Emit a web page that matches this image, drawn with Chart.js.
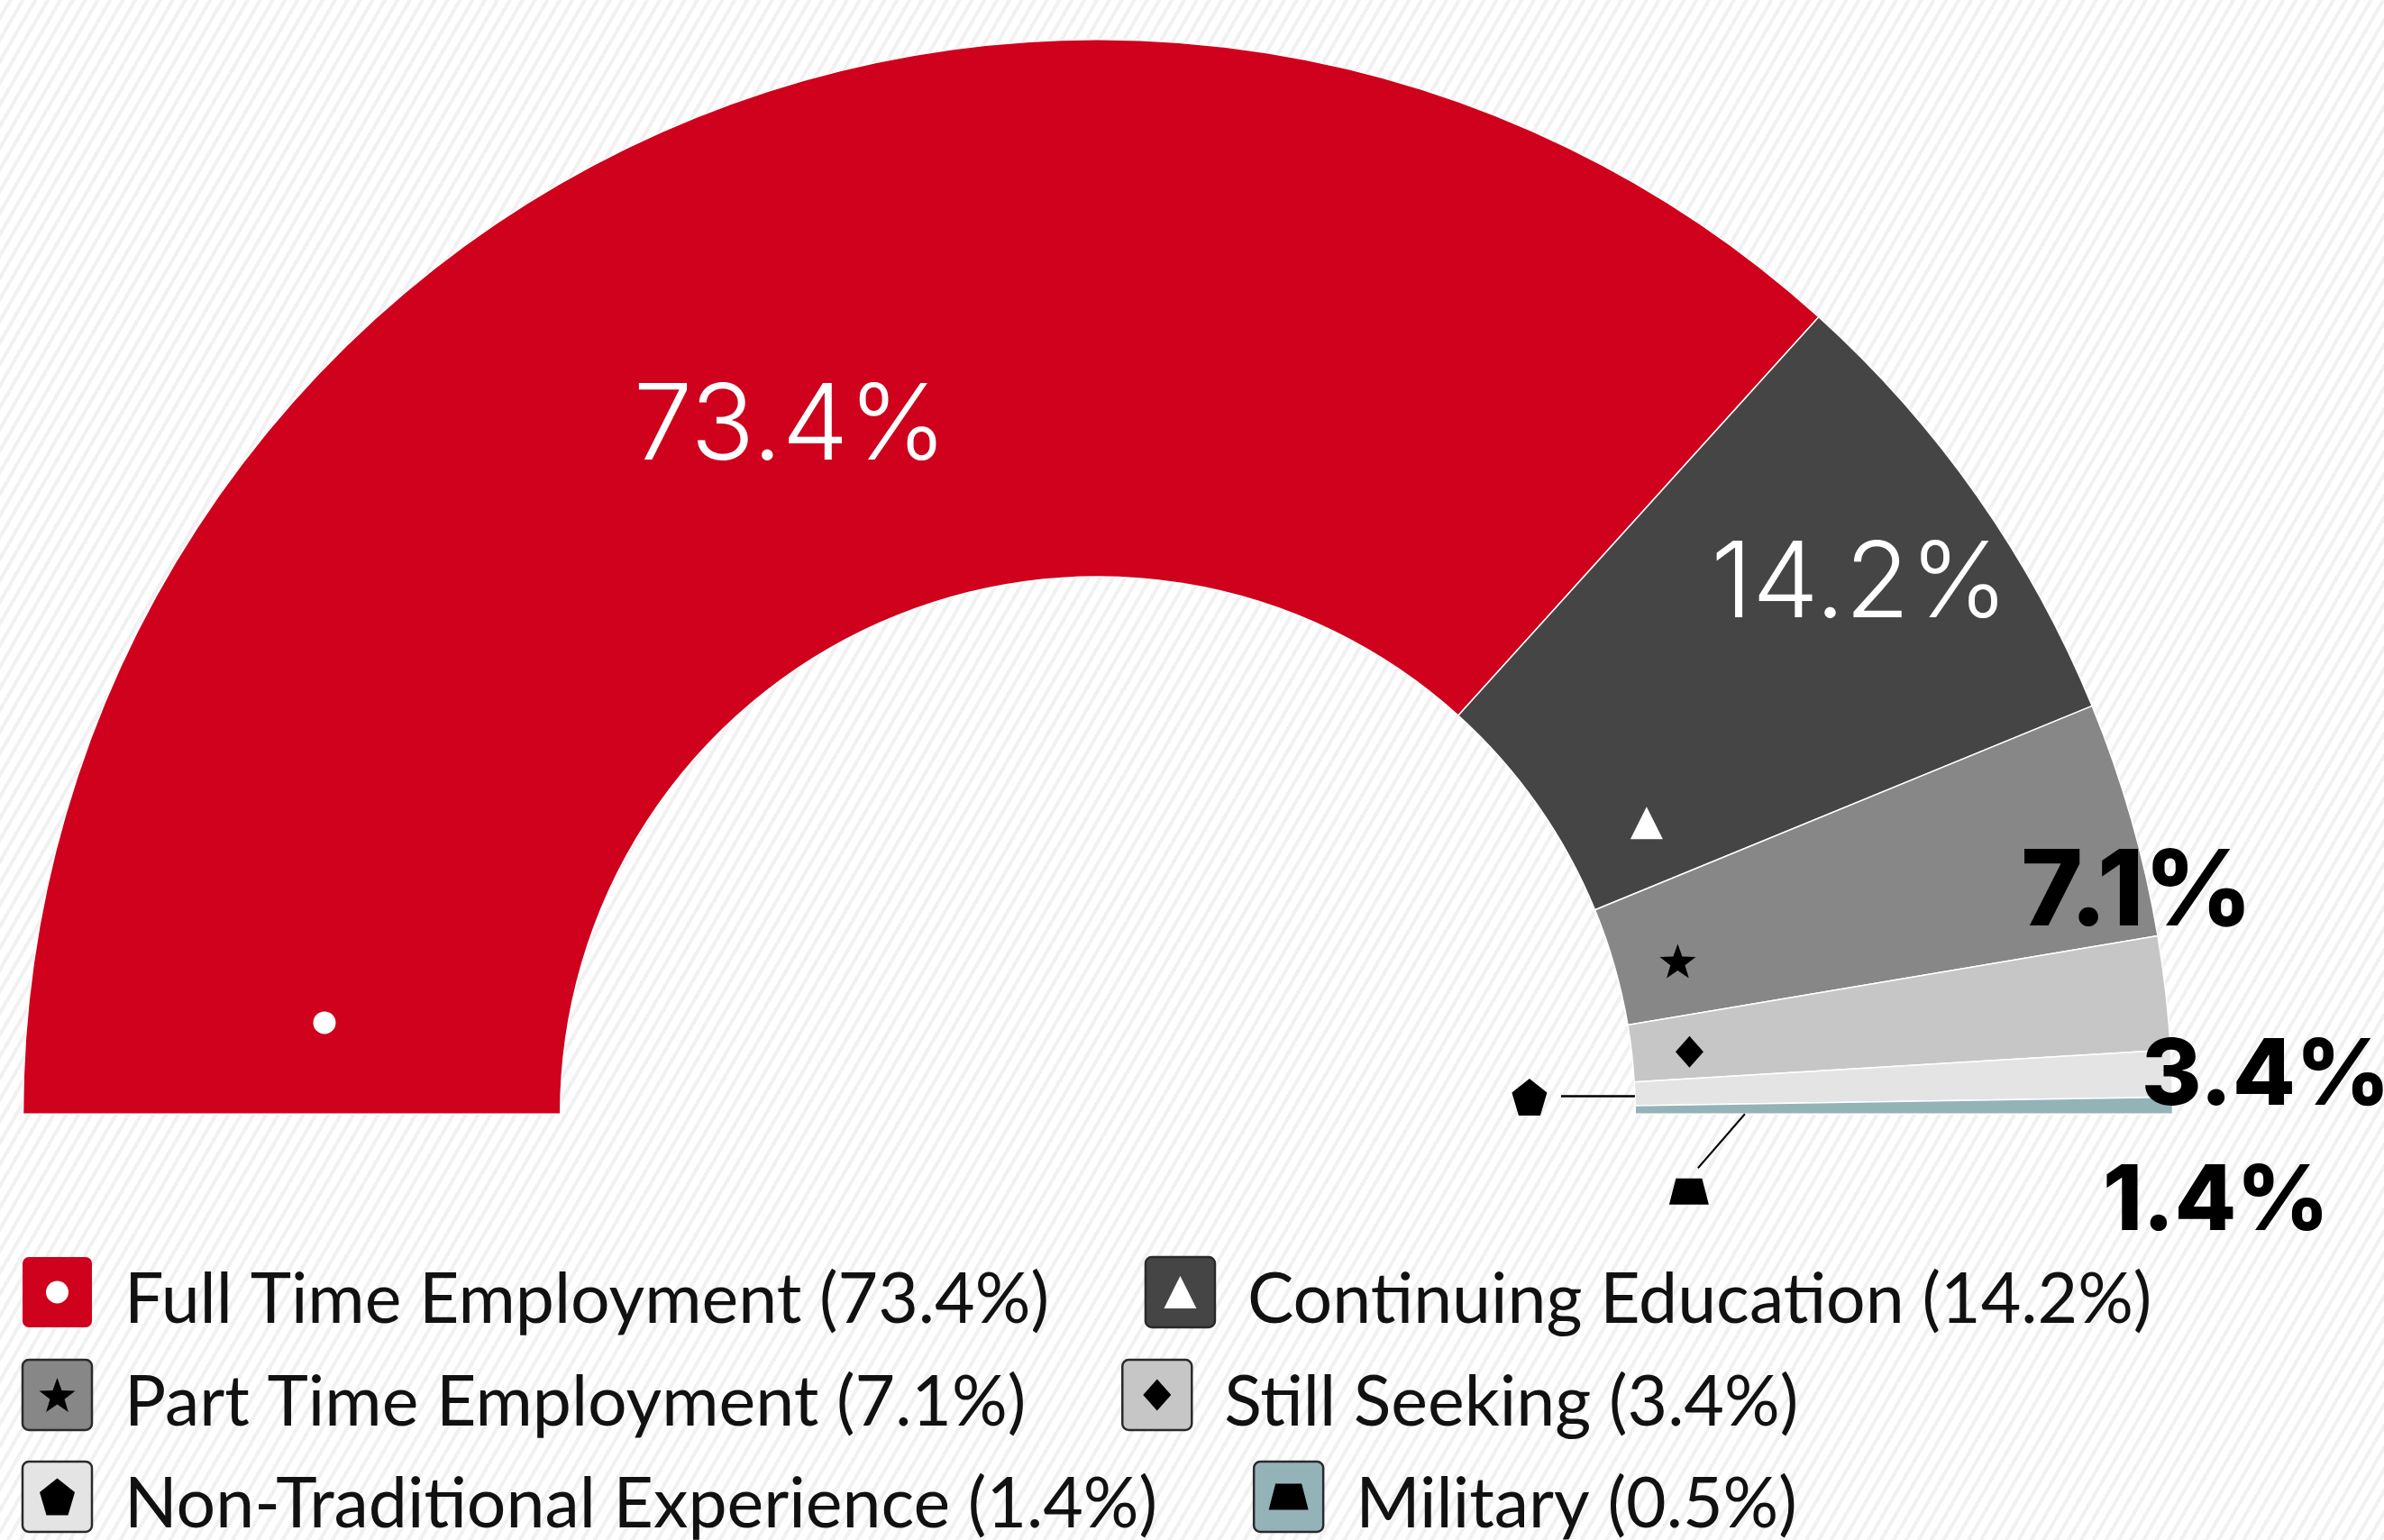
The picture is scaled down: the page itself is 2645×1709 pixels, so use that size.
<!DOCTYPE html>
<html lang="en">
<head>
<meta charset="utf-8">
<title>Graduate Outcomes</title>
<script src="https://cdn.jsdelivr.net/npm/chart.js@4.4.1/dist/chart.umd.min.js"></script>
<style>
  html, body { margin: 0; padding: 0; }
  body {
    width: 2645px;
    height: 1709px;
    overflow: hidden;
    background: repeating-linear-gradient(120deg, #ffffff 0px, #ffffff 8px, #f1f1f1 8px, #f1f1f1 12px);
  }
  #chartWrap { position: relative; width: 2645px; height: 1709px; }
</style>
</head>
<body>
<div id="chartWrap"><canvas id="outcomesChart"></canvas></div>
<script>
// =================================================
// DATA
// =================================================
const categories = [
  'Full Time Employment',
  'Continuing Education',
  'Part Time Employment',
  'Still Seeking',
  'Non-Traditional Experience',
  'Military'
];
const outcomeShares = [73.4, 14.2, 7.1, 3.4, 1.4, 0.5];
// which slices get a big percentage label on the chart (military has none)
const showSliceLabel = [true, true, true, true, true, false];

// =================================================
// STYLES
// =================================================
const sliceColors = ['#cf011c', '#454545', '#878787', '#c6c6c6', '#e4e4e4', '#94b3b9'];
const markerShapes = ['circle', 'triangle', 'star', 'diamond', 'pentagon', 'trapezoid'];
const markerColors = ['#ffffff', '#ffffff', '#000000', '#000000', '#000000', '#000000'];

// t = fraction along the slice angle, r = fraction across the ring (0 inner, 1 outer)
// dx/dy move the marker off its anchor, lineDx/lineDy draw a leader from the anchor
const markerPlacement = [
  { t: 0.051, r: 0.449 },
  { t: 0.78, r: 0.156 },
  { t: 0.59, r: 0.116 },
  { t: 0.58, r: 0.107 },
  { t: 0.6, r: 0, dx: -117, dy: 1, lineDx: -82, lineDy: 0, lineWidth: 2.5 },
  { t: 1, r: 0.204, dx: -62, dy: 86, lineDx: -52, lineDy: 60, lineWidth: 2 }
];

const labelPlacement = [
  { t: 0.5, r: 0.41, dx: 0, dy: 0, font: '300 117px Inter', color: '#ffffff' },
  { t: 0.5, r: 0.733, dx: 0, dy: 0, font: '300 117px Inter', color: '#ffffff' },
  { t: 0.5, r: 1, dx: 6, dy: 76, font: '800 117px Inter', color: '#000000' },
  { t: 0.5, r: 1, dx: 111, dy: 88, font: '800 102px Inter', color: '#000000' },
  { t: 0.5, r: 1, dx: 49, dy: 138, font: '800 100px Inter', color: '#000000' },
  null
];

const legendRows = [[0, 1], [2, 3], [4, 5]];
const legendBaselines = [1468, 1582, 1695];

(function () {
  'use strict';

  document.addEventListener('DOMContentLoaded', function () {
    initializeOutcomesChart();
  });

  /** Builds the half doughnut. */
  function initializeOutcomesChart() {
    const ctx = document.getElementById('outcomesChart').getContext('2d');
    new Chart(ctx, {
      type: 'doughnut',
      data: {
        labels: categories,
        datasets: [{
          data: outcomeShares,
          backgroundColor: sliceColors,
          borderColor: '#ffffff',
          borderWidth: 1.5
        }]
      },
      options: {
        responsive: true,
        maintainAspectRatio: false,
        animation: false,
        events: [],
        rotation: -90,
        circumference: 180,
        cutout: '50%',
        layout: { padding: { left: 24, right: 233, top: 43, bottom: 472 } },
        plugins: {
          legend: { display: false },
          tooltip: { enabled: false }
        }
      },
      plugins: [sliceDecorations, symbolLegend]
    });
  }

  // =================================================
  // PLUGINS
  // =================================================

  /** Draws the accessibility markers and percentage labels on the slices. */
  const sliceDecorations = {
    id: 'sliceDecorations',
    afterDatasetsDraw(chart) {
      const ctx = chart.ctx;
      const arcs = chart.getDatasetMeta(0).data;

      arcs.forEach((arc, i) => {
        const p = arc.getProps(['x', 'y', 'startAngle', 'endAngle', 'innerRadius', 'outerRadius'], true);
        const m = markerPlacement[i];
        const anchor = pointOnArc(p, m.t, m.r);

        if (m.lineDx !== undefined) {
          ctx.save();
          ctx.strokeStyle = '#000';
          ctx.lineWidth = m.lineWidth;
          ctx.beginPath();
          ctx.moveTo(anchor.x, anchor.y);
          ctx.lineTo(anchor.x + m.lineDx, anchor.y + m.lineDy);
          ctx.stroke();
          ctx.restore();
        }

        drawShape(ctx, markerShapes[i], anchor.x + (m.dx || 0), anchor.y + (m.dy || 0), markerColors[i]);

        const l = labelPlacement[i];
        if (showSliceLabel[i] && l) {
          const c = pointOnArc(p, l.t, l.r);
          drawCenteredText(ctx, outcomeShares[i].toFixed(1) + '%', c.x + l.dx, c.y + l.dy, l.font, l.color);
        }
      });
    }
  };

  /** Draws the legend rows with a rounded swatch holding each marker. */
  const symbolLegend = {
    id: 'symbolLegend',
    afterDraw(chart) {
      const ctx = chart.ctx;
      const boxW = 77, boxH = 78, textGap = 36, itemGap = 107;
      const legendFont = '77px Lato';

      ctx.save();
      ctx.textBaseline = 'alphabetic';
      ctx.textAlign = 'left';

      legendRows.forEach((row, r) => {
        const baseline = legendBaselines[r];
        let x = 25;
        row.forEach(i => {
          const top = baseline - 73;
          ctx.beginPath();
          ctx.roundRect(x, top, boxW, boxH, 7);
          ctx.fillStyle = sliceColors[i];
          ctx.fill();
          if (i !== 0) {
            ctx.lineWidth = 2.5;
            ctx.strokeStyle = '#2a2a2a';
            ctx.stroke();
          }
          drawShape(ctx, markerShapes[i], x + boxW / 2, top + boxH / 2, markerColors[i]);

          const text = categories[i] + ' (' + outcomeShares[i].toFixed(1) + '%)';
          ctx.font = legendFont;
          ctx.fillStyle = '#111111';
          ctx.fillText(text, x + boxW + textGap, baseline);
          x += boxW + textGap + ctx.measureText(text).width + itemGap;
        });
      });
      ctx.restore();
    }
  };

  // =================================================
  // HELPERS
  // =================================================

  /** Point inside an arc element, by angle fraction and ring fraction. */
  function pointOnArc(p, t, rf) {
    const a = p.startAngle + t * (p.endAngle - p.startAngle);
    const r = p.innerRadius + rf * (p.outerRadius - p.innerRadius);
    return { x: p.x + r * Math.cos(a), y: p.y + r * Math.sin(a) };
  }

  /** Text centred on its visible glyph box. */
  function drawCenteredText(ctx, text, x, y, font, color) {
    ctx.save();
    ctx.font = font;
    ctx.fillStyle = color;
    ctx.textAlign = 'center';
    ctx.textBaseline = 'alphabetic';
    const m = ctx.measureText(text);
    ctx.fillText(text, x, y + (m.actualBoundingBoxAscent - m.actualBoundingBoxDescent) / 2);
    ctx.restore();
  }

  /** Small filled glyphs used as pattern markers. */
  function drawShape(ctx, shape, x, y, color) {
    ctx.save();
    ctx.fillStyle = color;
    ctx.beginPath();
    if (shape === 'circle') {
      ctx.arc(x, y, 12.5, 0, Math.PI * 2);
    } else if (shape === 'triangle') {
      ctx.moveTo(x, y - 18);
      ctx.lineTo(x + 18, y + 18);
      ctx.lineTo(x - 18, y + 18);
    } else if (shape === 'star') {
      const cy = y + 2;
      for (let k = 0; k < 10; k++) {
        const rad = k % 2 === 0 ? 21 : 8.5;
        const ang = -Math.PI / 2 + k * Math.PI / 5;
        const px = x + rad * Math.cos(ang), py = cy + rad * Math.sin(ang);
        if (k === 0) ctx.moveTo(px, py); else ctx.lineTo(px, py);
      }
    } else if (shape === 'diamond') {
      ctx.moveTo(x, y - 17.5);
      ctx.lineTo(x + 15.5, y);
      ctx.lineTo(x, y + 17.5);
      ctx.lineTo(x - 15.5, y);
    } else if (shape === 'pentagon') {
      ctx.moveTo(x, y - 20.5);
      ctx.lineTo(x + 19.5, y - 5);
      ctx.lineTo(x + 12, y + 20.5);
      ctx.lineTo(x - 12, y + 20.5);
      ctx.lineTo(x - 19.5, y - 5);
    } else if (shape === 'trapezoid') {
      ctx.moveTo(x - 14.5, y - 14.5);
      ctx.lineTo(x + 14.5, y - 14.5);
      ctx.lineTo(x + 22, y + 14.5);
      ctx.lineTo(x - 22, y + 14.5);
    }
    ctx.closePath();
    ctx.fill();
    ctx.restore();
  }

})();
</script>
</body>
</html>
